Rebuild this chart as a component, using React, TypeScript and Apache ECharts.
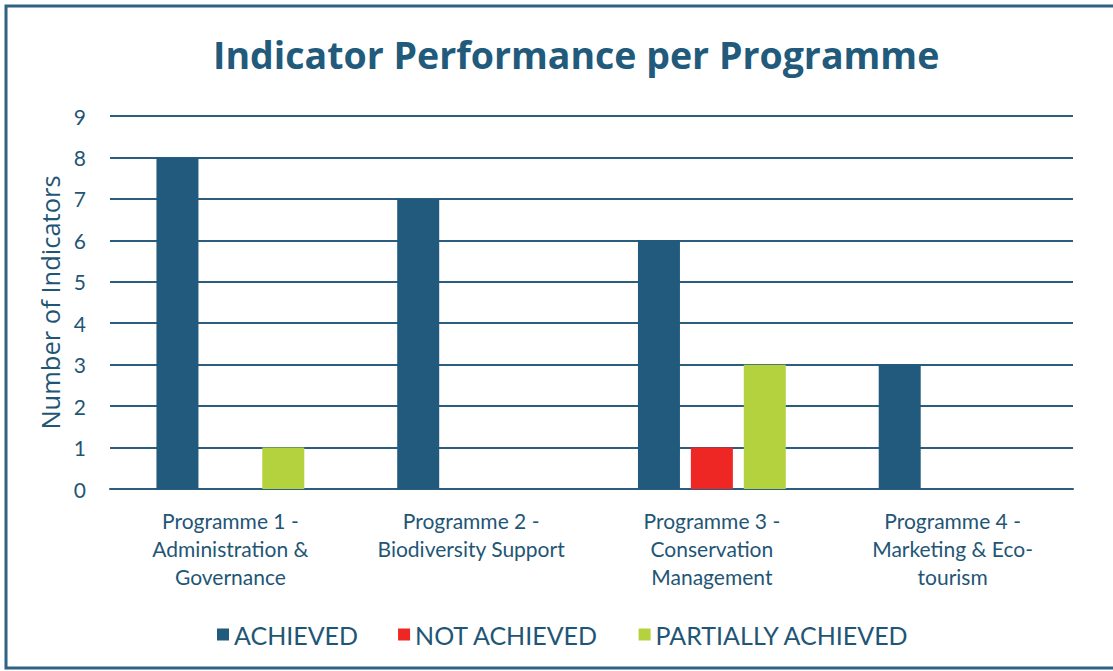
import React, { useEffect, useRef } from "react";
import * as echarts from "echarts";

const categories = [
  "Programme 1 -\nAdministration &\nGovernance",
  "Programme 2 -\nBiodiversity Support",
  "Programme 3 -\nConservation\nManagement",
  "Programme 4 -\nMarketing & Eco-\ntourism",
];
const achieved = [8, 7, 6, 3];
const notAchieved = [null, null, 1, null];
const partiallyAchieved = [1, null, 3, null];
const seriesNames = ["ACHIEVED", "NOT ACHIEVED", "PARTIALLY ACHIEVED"];

const TEXT = "#1f5676";
const LINE = "#2a5d7e";
const FONT = "Lato, 'Open Sans', sans-serif";

export default function App() {
  const ref = useRef<HTMLDivElement>(null);
  useEffect(() => {
    document.body.style.margin = "0";
    const chart = echarts.init(ref.current!, null, { renderer: "svg" });
    chart.setOption({
      animation: false,
      backgroundColor: "#ffffff",
      textStyle: { fontFamily: FONT, color: TEXT },
      title: {
        text: "Indicator Performance per Programme",
        left: 208,
        top: 30,
        textStyle: { fontFamily: "'Open Sans', Lato, sans-serif", fontSize: 37.5, fontWeight: "bold", color: "#215a7b" },
      },
      graphic: [
        {
          type: "rect",
          shape: { x: 6, y: 6, width: 1120, height: 662 },
          style: { fill: "none", stroke: "#2f6283", lineWidth: 3 },
          silent: true,
        },
      ],
      legend: {
        left: 212,
        top: 617,
        itemWidth: 12,
        itemHeight: 12,
        itemGap: 40,
        icon: "rect",
        textStyle: { fontFamily: FONT, fontSize: 25, color: TEXT },
        data: seriesNames,
      },
      grid: { left: 110, right: 40, top: 116, bottom: 182 },
      xAxis: {
        type: "category",
        data: categories,
        axisLine: { lineStyle: { color: LINE, width: 2 } },
        axisTick: { show: false },
        axisLabel: {
          fontFamily: FONT,
          fontSize: 21,
          color: TEXT,
          margin: 17,
          lineHeight: 28,
          interval: 0,
        },
      },
      yAxis: {
        type: "value",
        min: 0,
        max: 9,
        interval: 1,
        name: "Number of Indicators",
        nameLocation: "middle",
        nameGap: 47,
        nameTextStyle: { fontFamily: "'Open Sans', Lato, sans-serif", fontSize: 25.5, color: TEXT },
        axisLine: { show: false },
        axisTick: { show: false },
        axisLabel: { fontFamily: FONT, fontSize: 21, color: TEXT, margin: 24 },
        splitLine: { lineStyle: { color: LINE, width: 2 } },
      },
      series: [
        {
          name: seriesNames[0],
          type: "bar",
          data: achieved,
          barWidth: 42,
          barGap: "26%",
          itemStyle: { color: "#215a7c" },
        },
        {
          name: seriesNames[1],
          type: "bar",
          data: notAchieved,
          barWidth: 42,
          barGap: "26%",
          itemStyle: { color: "#ee2624" },
        },
        {
          name: seriesNames[2],
          type: "bar",
          data: partiallyAchieved,
          barWidth: 42,
          barGap: "26%",
          itemStyle: { color: "#b3d23e" },
        },
      ],
    });
    return () => chart.dispose();
  }, []);
  return <div ref={ref} style={{ width: 1113, height: 671 }} />;
}
